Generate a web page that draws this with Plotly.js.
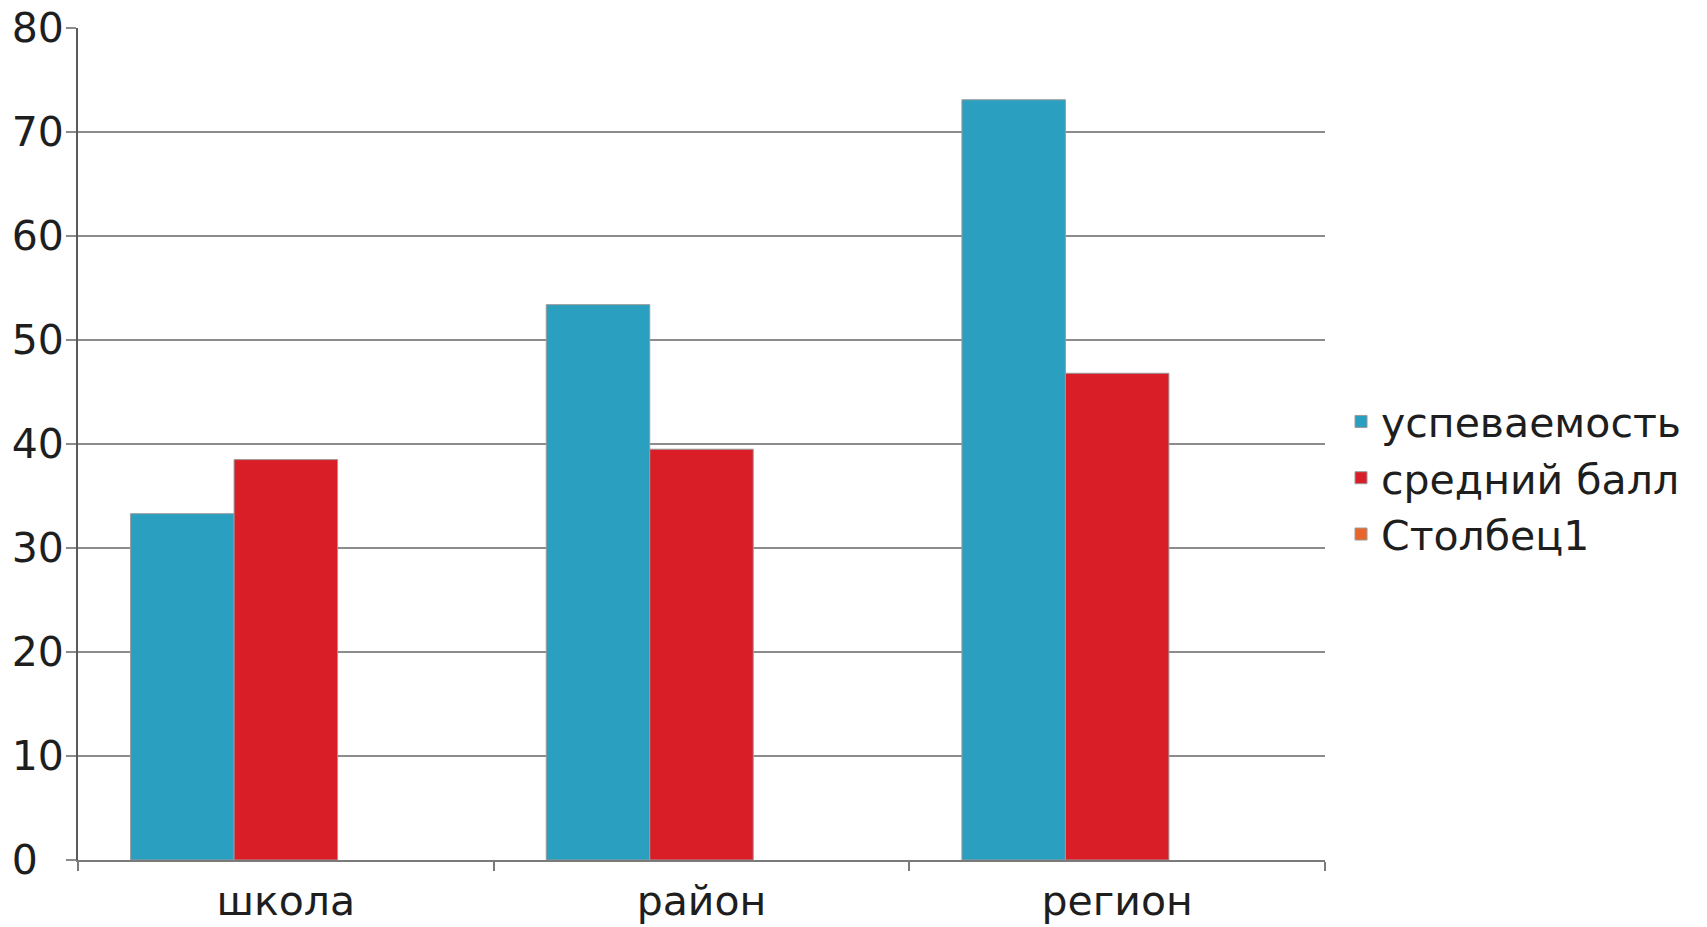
<!DOCTYPE html>
<html>
<head>
<meta charset="utf-8">
<script src="https://cdn.plot.ly/plotly-3.0.1.min.js"></script>
<style>
html,body{margin:0;padding:0;background:#fff;}
#chart{width:1707px;height:927px;}
</style>
</head>
<body>
<div id="chart"></div>
<script>
const categories = ['школа', 'район', 'регион'];
const seriesNames = ['успеваемость', 'средний балл', 'Столбец1'];
const uspevaemost = [33.3, 53.4, 73.1];
const sredniyBall = [38.5, 39.5, 46.8];
const stolbec1 = [null, null, null];
const yTicks = [0, 10, 20, 30, 40, 50, 60, 70, 80];

const colors = ['#2b9fbf', '#d91e27', '#e8662a'];
const values = [uspevaemost, sredniyBall, stolbec1];

const data = values.map((v, i) => ({
  type: 'bar',
  name: seriesNames[i],
  x: categories,
  y: v,
  marker: {color: colors[i], line: {color: '#9a9a9a', width: 1}},
  hoverinfo: 'x+y+name'
}));

const FAMILY = 'DejaVu Sans, Liberation Sans, Arial, sans-serif';
const font = {family: FAMILY, size: 41, color: '#1e1e1e'};

const layout = {
  width: 1707,
  height: 927,
  paper_bgcolor: '#ffffff',
  plot_bgcolor: '#ffffff',
  font: font,
  margin: {l: 78, r: 382, t: 28, b: 67, pad: 0, autoexpand: false},
  barmode: 'group',
  bargap: 0.253,
  bargroupgap: 0,
  showlegend: true,
  legend: {
    xref: 'container', yref: 'container',
    x: 0.7856, y: 0.4846, xanchor: 'left', yanchor: 'middle',
    font: {family: FAMILY, size: 41, color: '#1e1e1e'},
    itemwidth: 30,
    tracegroupgap: 0,
    bgcolor: 'rgba(0,0,0,0)'
  },
  xaxis: {
    type: 'category',
    showgrid: false,
    showline: true,
    linecolor: '#7a7a7a',
    linewidth: 2,
    ticks: 'outside',
    tickson: 'boundaries',
    ticklen: 9,
    tickwidth: 2,
    tickcolor: '#7a7a7a',
    ticklabelstandoff: 4,
    tickfont: {family: FAMILY, size: 41, color: '#1e1e1e'},
    zeroline: false,
    fixedrange: true
  },
  yaxis: {
    range: [0, 80],
    tickvals: yTicks,
    ticktext: yTicks.map(v => String(v).padEnd(2, '\u2007')),
    showgrid: true,
    gridcolor: '#8c8c8c',
    gridwidth: 2,
    showline: true,
    linecolor: '#5a5a5a',
    linewidth: 2,
    ticks: 'outside',
    ticklen: 10,
    tickwidth: 2,
    tickcolor: '#8c8c8c',
    ticklabelstandoff: -6,
    zeroline: false,
    tickfont: {family: FAMILY, size: 41, color: '#1e1e1e'},
    fixedrange: true
  }
};

Plotly.newPlot('chart', data, layout, {displayModeBar: false, staticPlot: true});
</script>
</body>
</html>
